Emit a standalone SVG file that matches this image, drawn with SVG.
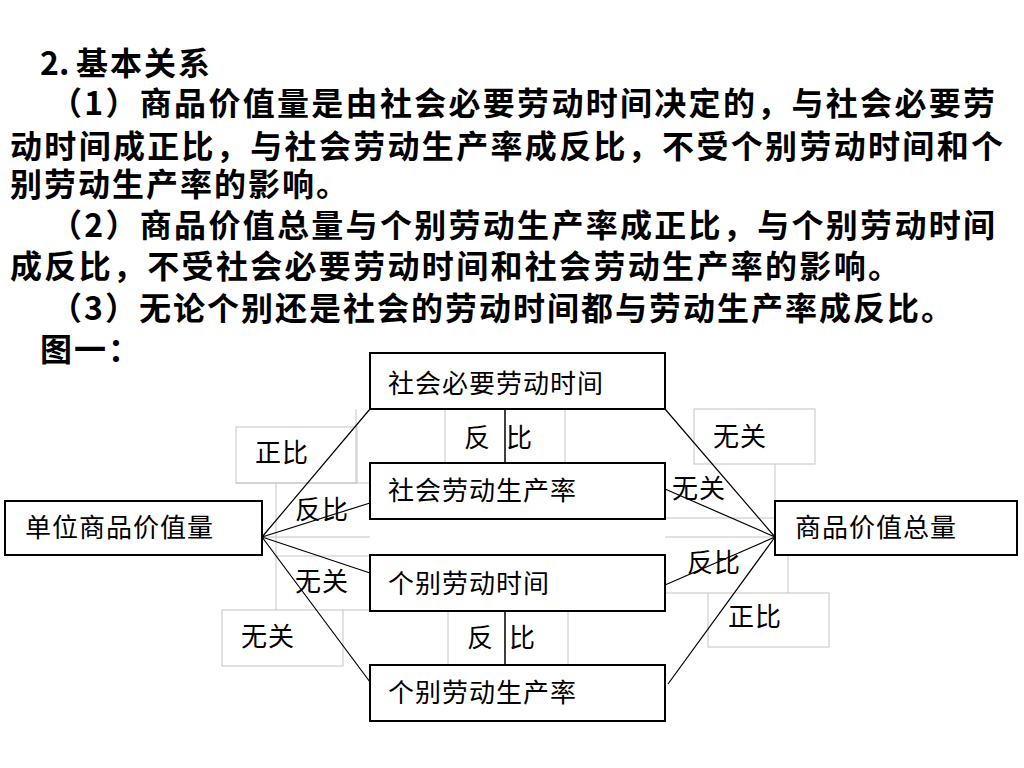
<svg xmlns="http://www.w3.org/2000/svg" width="1024" height="768" viewBox="0 0 1024 768">
<style>
.hd{font-family:"Noto Sans CJK SC","Noto Sans CJK JP",sans-serif;font-weight:bold;font-size:32px;fill:#000}
.nt{font-family:"Noto Sans CJK SC","Noto Sans CJK JP",sans-serif;font-weight:normal;font-size:26px;letter-spacing:1px;fill:#000}
.box{fill:#fff;stroke:#000;stroke-width:2}
.frame{fill:none;stroke:#c4c4c4;stroke-width:1}
.con{fill:none;stroke:#000;stroke-width:1.2}
</style>
<rect width="1024" height="768" fill="#fff"/>
<g id="heading">
<text class="hd" y="75"><tspan x="40">2.</tspan><tspan x="76" textLength="134" lengthAdjust="spacing">基本关系</tspan></text>
<text class="hd" x="50" y="115" textLength="945" lengthAdjust="spacing">（1）商品价值量是由社会必要劳动时间决定的，与社会必要劳</text>
<text class="hd" x="10" y="158" textLength="993" lengthAdjust="spacing">动时间成正比，与社会劳动生产率成反比，不受个别劳动时间和个</text>
<text class="hd" x="10" y="196" textLength="338" lengthAdjust="spacing">别劳动生产率的影响。</text>
<text class="hd" x="50" y="237" textLength="945" lengthAdjust="spacing">（2）商品价值总量与个别劳动生产率成正比，与个别劳动时间</text>
<text class="hd" x="10" y="278" textLength="890" lengthAdjust="spacing">成反比，不受社会必要劳动时间和社会劳动生产率的影响。</text>
<text class="hd" x="50" y="320" textLength="903" lengthAdjust="spacing">（3）无论个别还是社会的劳动时间都与劳动生产率成反比。</text>
<text class="hd" x="40" y="361" textLength="100" lengthAdjust="spacing">图一：</text>
</g>
<g id="label-frames" class="frame">
<rect x="236" y="427" width="121" height="56"/>
<path d="M356 409V483M236 483H370M276 483V610M262 537H370M276 556H370M343 610H370"/>
<rect x="222" y="610" width="121" height="56"/>
<path d="M445 409V463M565 409V463M448 611V665M568 611V665"/>
<rect x="694" y="409" width="121" height="55"/>
<path d="M775 464V501M665 518H775M665 537H775M788 555V593M665 593H708"/>
<rect x="708" y="593" width="121" height="54"/>
</g>
<g id="connectors" class="con">
<path d="M262 537L370 409M262 537L370 503M262 537L370 573M262 537L370 682"/>
<path d="M775 537L665 409M775 537L665 489M775 537L665 585M775 537L668 684"/>
<path d="M505 409V463M505 611V665" stroke-width="1.5"/>
</g>
<g id="node-snlt">
<rect class="box" x="370" y="353" width="295" height="56"/>
<text class="nt" x="388" y="393">社会必要劳动时间</text>
</g>
<g id="node-snlp">
<rect class="box" x="370" y="463" width="295" height="56"/>
<text class="nt" x="388" y="500">社会劳动生产率</text>
</g>
<g id="node-gblt">
<rect class="box" x="370" y="555" width="295" height="56"/>
<text class="nt" x="388" y="593">个别劳动时间</text>
</g>
<g id="node-gblp">
<rect class="box" x="370" y="665" width="295" height="56"/>
<text class="nt" x="388" y="702">个别劳动生产率</text>
</g>
<g id="node-unit">
<rect class="box" x="5" y="501" width="257" height="54"/>
<text class="nt" x="25" y="537">单位商品价值量</text>
</g>
<g id="node-total">
<rect class="box" x="775" y="501" width="242" height="54"/>
<text class="nt" x="795" y="537">商品价值总量</text>
</g>
<g id="labels">
<text class="nt" x="255" y="462">正比</text>
<text class="nt" x="295" y="519">反比</text>
<text class="nt" x="295" y="591">无关</text>
<text class="nt" x="241" y="646">无关</text>
<text class="nt" x="464" y="447">反</text>
<text class="nt" x="506" y="447">比</text>
<text class="nt" x="713" y="446">无关</text>
<text class="nt" x="672" y="498">无关</text>
<text class="nt" x="687" y="572">反比</text>
<text class="nt" x="728" y="626">正比</text>
<text class="nt" x="467" y="647">反</text>
<text class="nt" x="509" y="647">比</text>
</g>
</svg>
